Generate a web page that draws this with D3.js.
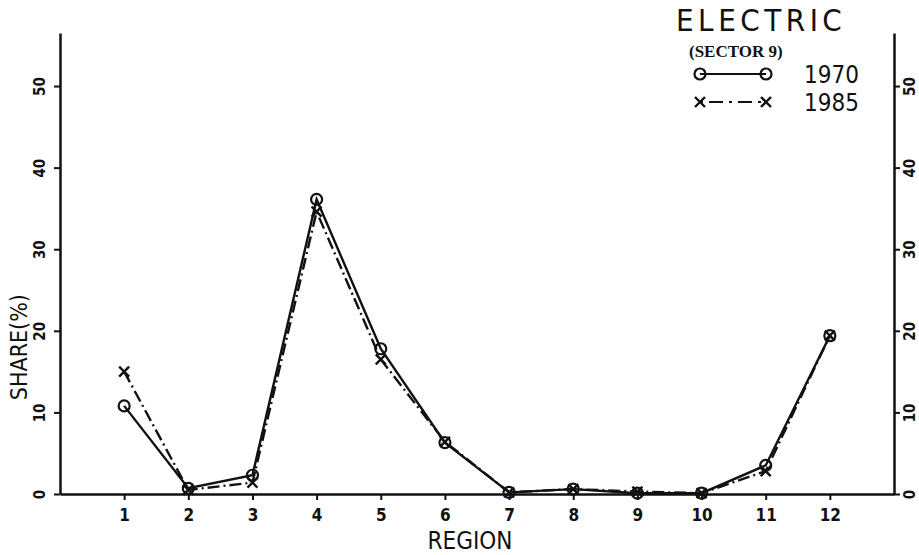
<!DOCTYPE html>
<html>
<head>
<meta charset="utf-8">
<script src="https://cdn.jsdelivr.net/npm/d3@7"></script>
<style>
  html, body { margin: 0; padding: 0; background: #fff; }
  svg { display: block; }
  .narrow { font-family: "Liberation Sans Narrow", "DejaVu Sans Condensed", "Arial Narrow", sans-serif; font-stretch: condensed; }
</style>
</head>
<body>
<svg id="chart" width="919" height="555"></svg>
<script>
// Regional share of the electric sector, 1970 vs 1985
const regions = [1, 2, 3, 4, 5, 6, 7, 8, 9, 10, 11, 12];
const regionLabels = ["1", "2", "3", "4", "5", "6", "7", "8", "9", "10", "11", "12"];
const share1970 = [10.8, 0.7, 2.3, 36.1, 17.8, 6.3, 0.2, 0.6, 0.1, 0.1, 3.5, 19.4];
const share1985 = [15.0, 0.5, 1.4, 34.6, 16.5, 6.4, 0.2, 0.6, 0.3, 0.1, 2.8, 19.4];
const yTickValues = [0, 10, 20, 30, 40, 50];
const yTickLabels = ["0", "10", "20", "30", "40", "50"];
const seriesNames = ["1970", "1985"];

const svg = d3.select("#chart");
const plotLeft = 60, plotRight = 894, plotTop = 33, plotBottom = 494;

const x = d3.scaleLinear().domain([0, 13]).range([plotLeft, plotRight]);
const y = d3.scaleLinear().domain([0, 56.5]).range([plotBottom, plotTop]);

const ink = "#111";

// Axes: left, right and bottom frame lines with outward ticks
const yLeft = d3.axisLeft(y).tickValues(yTickValues)
  .tickFormat((d, i) => yTickLabels[i]).tickSize(6).tickSizeOuter(0);
const yRight = d3.axisRight(y).tickValues(yTickValues)
  .tickFormat((d, i) => yTickLabels[i]).tickSize(6).tickSizeOuter(0);
const xBottom = d3.axisBottom(x).tickValues(regions)
  .tickFormat((d, i) => regionLabels[i]).tickSize(6).tickSizeOuter(0);

function styleAxis(g) {
  g.select(".domain").attr("stroke", ink).attr("stroke-width", 2.5);
  g.selectAll(".tick line").attr("stroke", ink).attr("stroke-width", 2);
  g.selectAll(".tick text").attr("fill", ink).attr("class", "narrow")
    .style("font-weight", "bold");
}

// value labels on both vertical axes read upwards
const gl = svg.append("g").attr("transform", `translate(${plotLeft},0)`).call(yLeft).call(styleAxis);
gl.selectAll(".tick text")
  .attr("transform", "rotate(-90)").attr("x", 0).attr("y", -15).attr("dy", null)
  .attr("text-anchor", "middle").style("font-size", "15px");

const gr = svg.append("g").attr("transform", `translate(${plotRight},0)`).call(yRight).call(styleAxis);
gr.selectAll(".tick text")
  .attr("transform", "rotate(-90)").attr("x", 0).attr("y", 21).attr("dy", null)
  .attr("text-anchor", "middle").style("font-size", "15px");

// bottom axis spans the full frame width
const gb = svg.append("g").attr("transform", `translate(0,${plotBottom})`).call(xBottom).call(styleAxis);
gb.selectAll(".tick text").attr("y", 27).attr("dy", null).style("font-size", "17px");

// Axis titles
svg.append("text").attr("class", "narrow")
  .attr("transform", `translate(27,${(y(12) + y(24)) / 2}) rotate(-90)`)
  .attr("text-anchor", "middle").attr("fill", ink)
  .style("font-size", "23px").text("SHARE(%)");

svg.append("text").attr("class", "narrow")
  .attr("x", 470).attr("y", 549).attr("text-anchor", "middle").attr("fill", ink)
  .style("font-size", "24px").text("REGION");

// Series
const series = [
  { name: seriesNames[0], values: share1970, dash: null, marker: "circle" },
  { name: seriesNames[1], values: share1985, dash: "12,4,2,4", marker: "cross" }
];

const line = d3.line().x(d => x(d[0])).y(d => y(d[1]));

function drawMarker(g, kind, cx, cy) {
  if (kind === "circle") {
    g.append("circle").attr("cx", cx).attr("cy", cy).attr("r", 5.5)
      .attr("fill", "none").attr("stroke", ink).attr("stroke-width", 2.2);
  } else {
    const s = 5;
    g.append("path")
      .attr("d", `M${cx - s},${cy - s}L${cx + s},${cy + s}M${cx - s},${cy + s}L${cx + s},${cy - s}`)
      .attr("stroke", ink).attr("stroke-width", 2.4).attr("fill", "none");
  }
}

series.slice().reverse().forEach(s => {
  const pts = regions.map((r, i) => [r, s.values[i]]);
  const g = svg.append("g");
  g.append("path").attr("d", line(pts)).attr("fill", "none")
    .attr("stroke", ink).attr("stroke-width", 2.4)
    .attr("stroke-dasharray", s.dash);
  pts.forEach(p => drawMarker(g, s.marker, x(p[0]), y(p[1])));
});

// Title and legend
svg.append("text").attr("class", "narrow")
  .attr("x", 676).attr("y", 31).attr("fill", ink)
  .style("font-size", "31px").style("letter-spacing", "4.5px").text("ELECTRIC");

svg.append("text")
  .attr("x", 689).attr("y", 57).attr("fill", ink)
  .style("font-family", "'Liberation Serif', 'DejaVu Serif', serif")
  .style("font-weight", "bold").style("font-size", "17px").text("(SECTOR 9)");

const legendRows = [74, 102];
series.forEach((s, i) => {
  const g = svg.append("g");
  const ly = legendRows[i];
  g.append("path").attr("d", `M700,${ly}L766,${ly}`)
    .attr("stroke", ink).attr("stroke-width", 2.2).attr("fill", "none")
    .attr("stroke-dasharray", s.dash ? "3,6,14,6" : null);
  drawMarker(g, s.marker, 700, ly);
  drawMarker(g, s.marker, 766, ly);
  g.append("text").attr("class", "narrow")
    .attr("x", 804).attr("y", ly + 9).attr("fill", ink)
    .style("font-size", "24px").text(s.name);
});
</script>
</body>
</html>
